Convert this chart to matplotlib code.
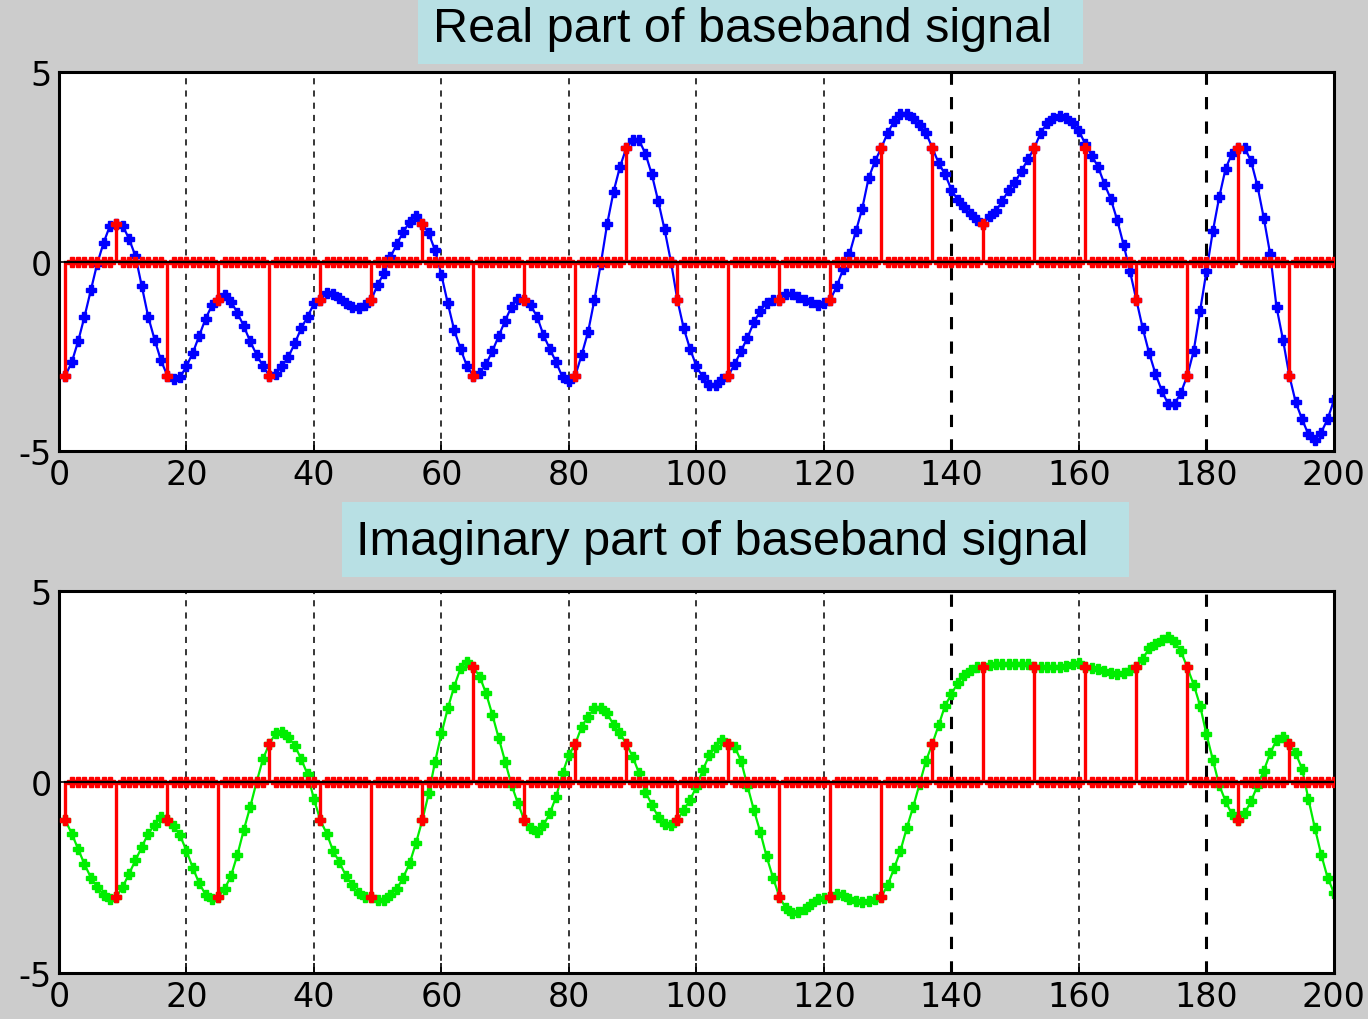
import numpy as np
import matplotlib.pyplot as plt
from matplotlib.patches import Rectangle

plt.rcParams['axes.unicode_minus'] = False

# Sample index (MATLAB style, 1..200) and oversampling factor
n = np.arange(1, 201)
sps = 8

# 16-QAM symbols (one every 8 samples, starting at sample 1)
real_syms = [-3, 1, -3, -1, -3, -1, -1, 1, -3, -1, -3, 3, -1,
             -3, -1, -1, 3, 3, 1, 3, 3, -1, -3, 3, -3]
imag_syms = [-1, -3, -1, -3, 1, -1, -3, -1, 3, -1, 1, 1, -1,
             1, -3, -3, -3, 1, 3, 3, 3, 3, 3, -1, 1]

# Pulse shaped baseband signal
real_curve = [
    -3.0, -2.65, -2.1, -1.45, -0.75, -0.05, 0.5, 0.95, 1.0, 0.95,
    0.6, 0.15, -0.65, -1.45, -2.05, -2.6, -3.0, -3.1, -3.05, -2.75,
    -2.4, -1.95, -1.5, -1.15, -1.0, -0.88, -1.05, -1.35, -1.7, -2.1,
    -2.45, -2.75, -3.0, -2.95, -2.75, -2.5, -2.15, -1.75, -1.45, -1.1,
    -1.0, -0.83, -0.85, -0.95, -1.1, -1.2, -1.22, -1.15, -1.0, -0.6,
    -0.3, 0.12, 0.47, 0.78, 1.05, 1.2, 1.0, 0.75, 0.3, -0.35,
    -1.1, -1.8, -2.3, -2.75, -3.0, -2.92, -2.7, -2.35, -1.95, -1.55,
    -1.18, -0.98, -1.0, -1.15, -1.45, -1.93, -2.3, -2.65, -3.05, -3.15,
    -3.0, -2.45, -1.85, -1.0, -0.05, 1.0, 1.85, 2.5, 3.0, 3.2,
    3.2, 2.85, 2.3, 1.6, 0.85, 0.0, -1.0, -1.75, -2.3, -2.75,
    -3.05, -3.25, -3.25, -3.1, -3.0, -2.7, -2.35, -2.0, -1.6, -1.3,
    -1.08, -1.0, -1.0, -0.85, -0.85, -0.92, -1.0, -1.07, -1.15, -1.1,
    -1.0, -0.65, -0.2, 0.2, 0.8, 1.4, 2.2, 2.65, 3.0, 3.4,
    3.7, 3.9, 3.9, 3.8, 3.6, 3.4, 3.0, 2.6, 2.3, 1.9,
    1.62, 1.45, 1.25, 1.1, 1.0, 1.2, 1.35, 1.6, 1.9, 2.1,
    2.4, 2.7, 3.0, 3.4, 3.65, 3.78, 3.83, 3.8, 3.65, 3.45,
    3.1, 2.8, 2.5, 2.05, 1.65, 1.1, 0.45, -0.25, -1.0, -1.75,
    -2.4, -2.95, -3.4, -3.75, -3.75, -3.45, -3.0, -2.35, -1.3, -0.25,
    0.8, 1.7, 2.45, 2.85, 3.0, 3.0, 2.65, 2.0, 1.15, 0.2,
    -1.2, -2.05, -3.0, -3.7, -4.15, -4.55, -4.7, -4.5, -4.15, -3.65,
]
imag_curve = [
    -1.0, -1.35, -1.75, -2.15, -2.5, -2.75, -2.95, -3.05, -3.0, -2.75,
    -2.4, -2.05, -1.7, -1.35, -1.12, -0.92, -1.0, -1.15, -1.4, -1.8,
    -2.25, -2.65, -2.95, -3.05, -3.0, -2.8, -2.45, -1.9, -1.25, -0.65,
    0.0, 0.6, 1.0, 1.28, 1.3, 1.18, 0.95, 0.6, 0.2, -0.45,
    -1.0, -1.35, -1.8, -2.1, -2.45, -2.7, -2.9, -3.0, -3.0, -3.1,
    -3.1, -2.95, -2.8, -2.5, -2.13, -1.6, -1.0, -0.3, 0.53, 1.27,
    1.93, 2.5, 2.98, 3.15, 3.0, 2.76, 2.32, 1.75, 1.14, 0.53,
    -0.08, -0.56, -1.0, -1.21, -1.3, -1.13, -0.82, -0.38, 0.23, 0.71,
    1.0, 1.45, 1.71, 1.93, 1.93, 1.8, 1.49, 1.27, 1.0, 0.66,
    0.23, -0.25, -0.6, -0.91, -1.1, -1.13, -1.0, -0.73, -0.47, -0.12,
    0.31, 0.7, 0.92, 1.1, 1.0, 0.92, 0.55, -0.1, -0.73, -1.3,
    -1.95, -2.5, -3.0, -3.3, -3.42, -3.4, -3.33, -3.2, -3.07, -3.03,
    -3.0, -2.92, -2.95, -3.05, -3.12, -3.13, -3.12, -3.05, -3.0, -2.7,
    -2.26, -1.8, -1.2, -0.65, -0.05, 0.55, 1.0, 1.49, 2.0, 2.3,
    2.6, 2.8, 2.93, 3.02, 3.0, 3.06, 3.1, 3.1, 3.1, 3.1,
    3.1, 3.08, 3.0, 3.02, 3.0, 3.0, 3.02, 3.03, 3.08, 3.12,
    3.0, 2.98, 2.95, 2.9, 2.86, 2.83, 2.85, 2.92, 3.0, 3.22,
    3.5, 3.6, 3.72, 3.8, 3.67, 3.42, 3.0, 2.55, 2.0, 1.25,
    0.58, -0.08, -0.5, -0.85, -1.0, -0.82, -0.5, -0.1, 0.3, 0.75,
    1.1, 1.19, 1.0, 0.75, 0.35, -0.45, -1.2, -1.9, -2.5, -2.9,
]

titles = ['Real part of baseband signal', 'Imaginary part of baseband signal']
curve_colors = ['#0000ff', '#00ee00']
xticks = [0, 20, 40, 60, 80, 100, 120, 140, 160, 180, 200]
yticks = [-5, 0, 5]

bg = '#cccccc'
box_color = '#b8e0e4'

fig = plt.figure(figsize=(13.68, 10.2), dpi=100, facecolor=bg)

# axes rectangles in figure fractions
ax_top = fig.add_axes([0.0431, 0.5564, 0.932, 0.372])
ax_bot = fig.add_axes([0.0431, 0.0451, 0.932, 0.3745])

for ax, syms, curve, col in [(ax_top, real_syms, real_curve, curve_colors[0]),
                             (ax_bot, imag_syms, imag_curve, curve_colors[1])]:
    # upsampled symbol train (zeros between symbols)
    up = np.zeros(len(n))
    up[::sps] = syms

    ax.plot(n, curve, '-', color=col, lw=1.6, marker='P', ms=7,
            mec=col, mfc=col, zorder=2)

    markerline, stemlines, baseline = ax.stem(n, up, linefmt='r-', markerfmt='rP',
                                              basefmt='k-')
    plt.setp(stemlines, linewidth=2.4, color='#ff0000', zorder=3)
    plt.setp(markerline, markersize=7.5, color='#ff0000', zorder=3)
    plt.setp(baseline, linewidth=1.6, color='k', zorder=4)

    ax.set_xlim(0, 200)
    ax.set_ylim(-5, 5)
    ax.set_xticks(xticks)
    ax.set_yticks(yticks)
    ax.set_facecolor('white')
    ax.grid(axis='x', color='k', linestyle=(0, (4, 4)), linewidth=1.1)
    for gl, xv in zip(ax.get_xgridlines(), xticks):
        if xv in (140, 180):
            gl.set_linewidth(2.2)
    ax.tick_params(direction='in', length=7, width=1.2, labelsize=24, pad=5,
                   top=False, right=False)
    for lab in ax.get_xticklabels() + ax.get_yticklabels():
        lab.set_family('DejaVu Sans')
    for sp in ax.spines.values():
        sp.set_linewidth(2.2)

# title boxes, drawn in figure coordinates
fig.add_artist(Rectangle((0.3056, 0.9363), 0.4861, 0.0637, transform=fig.transFigure,
                         facecolor=box_color, edgecolor='none', zorder=0))
fig.text(0.5424, 0.9715, titles[0], ha='center', va='center', fontsize=35,
         family='Liberation Sans')

fig.add_artist(Rectangle((0.25, 0.4333), 0.5753, 0.0736, transform=fig.transFigure,
                         facecolor=box_color, edgecolor='none', zorder=0))
fig.text(0.5278, 0.4686, titles[1], ha='center', va='center', fontsize=35,
         family='Liberation Sans')

plt.savefig('out.png', dpi=100, facecolor=bg)
